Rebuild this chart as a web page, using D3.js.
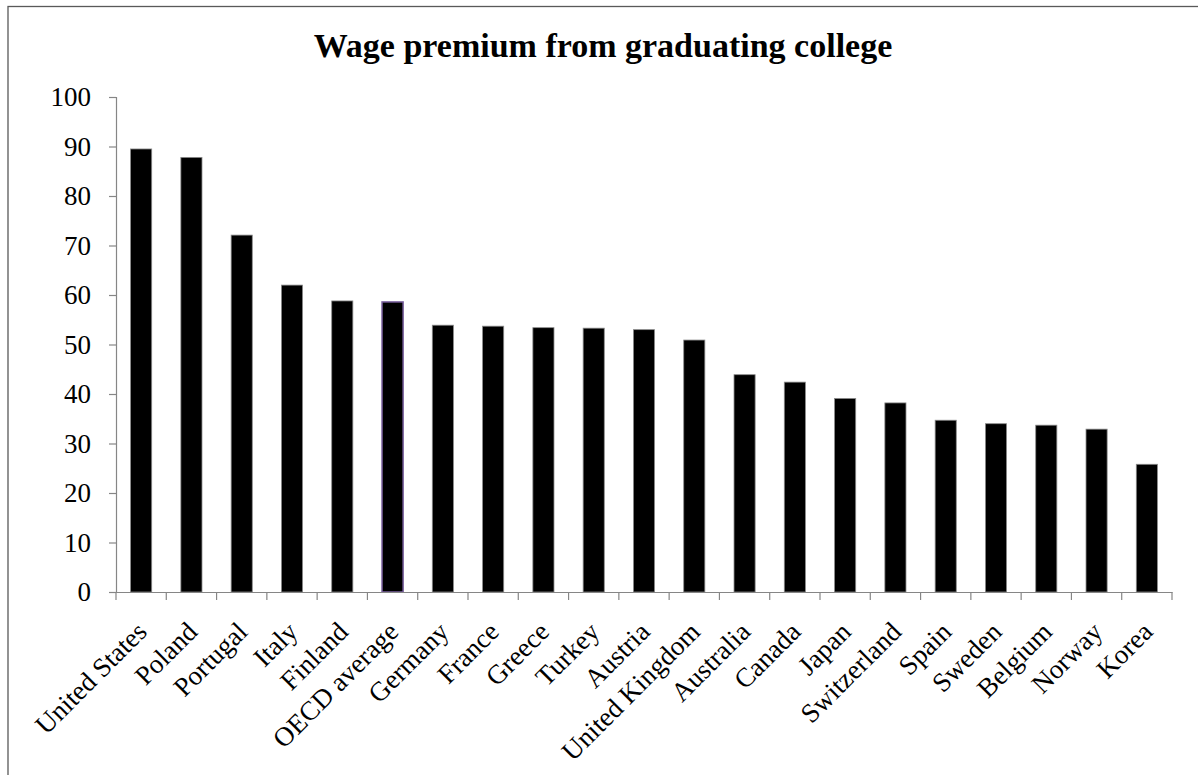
<!DOCTYPE html>
<html>
<head>
<meta charset="utf-8">
<script src="https://cdn.jsdelivr.net/npm/d3@7"></script>
<style>
  html, body { margin: 0; padding: 0; background: #fff; }
  svg { display: block; }
</style>
</head>
<body>
<svg id="chart" width="1198" height="775"></svg>
<script>
const title = "Wage premium from graduating college";
const categories = ["United States", "Poland", "Portugal", "Italy", "Finland", "OECD average",
  "Germany", "France", "Greece", "Turkey", "Austria", "United Kingdom", "Australia", "Canada",
  "Japan", "Switzerland", "Spain", "Sweden", "Belgium", "Norway", "Korea"];
const values = [89.5, 87.8, 72.1, 62.0, 58.8, 58.6, 53.9, 53.7, 53.4, 53.3, 53.0, 50.9,
  43.9, 42.4, 39.1, 38.2, 34.7, 34.0, 33.7, 32.9, 25.8];
const yTicks = [0, 10, 20, 30, 40, 50, 60, 70, 80, 90, 100];
const highlight = "OECD average";

const svg = d3.select("#chart");
const font = "'Liberation Serif', 'Times New Roman', serif";

// outer border (extends beyond the frame on right/bottom)
svg.append("rect").attr("x", 8).attr("y", 6.5).attr("width", 1300).attr("height", 900)
  .attr("fill", "none").attr("stroke", "#595959").attr("stroke-width", 1.3);

const plotLeft = 116, plotRight = 1172, plotTop = 97, plotBottom = 592;
const x = d3.scaleBand().domain(categories).range([plotLeft, plotRight]).paddingInner(0.58).paddingOuter(0.29);
const xb = d3.scaleBand().domain(categories).range([plotLeft, plotRight]);
const y = d3.scaleLinear().domain([0, 100]).range([plotBottom, plotTop]);

svg.append("text").attr("x", 603).attr("y", 57).attr("text-anchor", "middle")
  .attr("font-family", font).attr("font-weight", "bold").attr("font-size", 34)
  .text(title);

// bars
svg.append("g").selectAll("rect").data(categories).join("rect")
  .attr("x", d => x(d)).attr("width", x.bandwidth())
  .attr("y", (d, i) => y(values[i])).attr("height", (d, i) => y(0) - y(values[i]))
  .attr("fill", "#000")
  .attr("stroke", d => d === highlight ? "#7b62a0" : "#8a8a8a")
  .attr("stroke-width", d => d === highlight ? 1.5 : 0.8);

// y axis
const yAxis = svg.append("g").attr("transform", `translate(${plotLeft},0)`)
  .call(d3.axisLeft(y).tickValues(yTicks).tickSize(7).tickPadding(18));
yAxis.select(".domain").attr("stroke", "#868686").attr("stroke-width", 1.2);
yAxis.selectAll(".tick line").attr("stroke", "#868686").attr("stroke-width", 1.2);
yAxis.selectAll(".tick text").attr("font-family", font).attr("font-size", 27).attr("fill", "#000");

// x axis
const xAxis = svg.append("g").attr("transform", `translate(0,${plotBottom})`)
  .call(d3.axisBottom(xb).tickSize(0).tickFormat(""));
xAxis.select(".domain").attr("stroke", "#868686").attr("stroke-width", 1.2);
xAxis.selectAll(".tick").remove();
const bounds = categories.map(c => xb(c)).concat([plotRight]);
xAxis.selectAll("line.sep").data(bounds).join("line").attr("class", "sep")
  .attr("x1", d => d).attr("x2", d => d).attr("y1", 0).attr("y2", 8)
  .attr("stroke", "#868686").attr("stroke-width", 1.2);

svg.append("g").selectAll("text").data(categories).join("text")
  .attr("transform", d => `translate(${xb(d) + xb.bandwidth() / 2 - 6},${plotBottom + 28}) rotate(-45)`)
  .attr("text-anchor", "end").attr("dy", "0.7em")
  .attr("font-family", font).attr("font-size", 27).attr("fill", "#000")
  .text(d => d);
</script>
</body>
</html>
